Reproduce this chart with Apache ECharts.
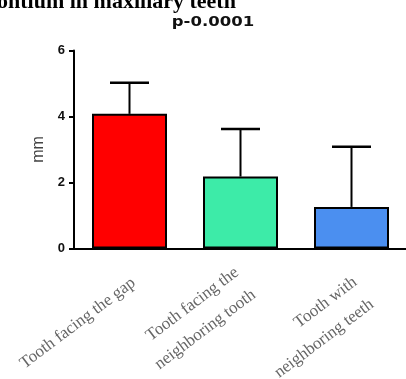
<!DOCTYPE html>
<html><head><meta charset="utf-8">
<script src="https://cdn.jsdelivr.net/npm/echarts@6/dist/echarts.min.js"></script>
<style>html,body{margin:0;padding:0;background:#fff}#c{width:406px;height:379px}</style>
</head><body><div id="c"></div>
<script>
const categories = ['Tooth facing the gap', 'Tooth facing the\nneighboring tooth', 'Tooth with\nneighboring teeth'];
const means = [4.08, 2.18, 1.26];
const sd = [0.94, 1.44, 1.82];
const barColors = ['#ff0000', '#3deba8', '#4b8ff0'];
const yMin = 0, yMax = 6, yStep = 2;
const titleText = 'ontium in maxillary teeth';
const pText = 'p-0.0001';
const yName = 'mm';

const labelShift = [14, 16, 40];

const chart = echarts.init(document.getElementById('c'), null, {renderer: 'canvas'});
const barData = means.map((v, i) => ({value: v, itemStyle: {color: barColors[i]}}));
const errData = means.map((v, i) => [i, v, v + sd[i]]);

const baseTok = {fontFamily: 'Liberation Serif', fontSize: 17, lineHeight: 28, color: '#666'};
const rich = {};
labelShift.forEach((p, i) => { rich['s' + i] = Object.assign({}, baseTok, {padding: [p, 0, 0, 0]}); });

chart.setOption({
  backgroundColor: '#fff',
  animation: false,
  grid: {left: 74, right: -1, top: 50.5, bottom: 130.5, containLabel: false, outerBoundsMode: 'none'},
  graphic: [
    {type: 'text', left: -3, top: -9, style: {text: titleText, font: 'bold 22px "Liberation Serif"', fill: '#000'}},
    {type: 'text', x: 213, y: 22, scaleX: 1.18, style: {text: pText, font: 'bold 14px "DejaVu Sans"', fill: '#111', align: 'center', verticalAlign: 'middle'}}
  ],
  xAxis: {
    type: 'category', data: categories,
    axisLine: {lineStyle: {color: '#000', width: 2}},
    axisTick: {alignWithLabel: true, length: 5, lineStyle: {color: '#000', width: 2}},
    axisLabel: {
      interval: 0, rotate: 37, margin: 27, fontFamily: 'Liberation Serif', fontSize: 17, lineHeight: 28, color: '#666',
      formatter: function (value, index) {
        return value.split('\n').map(l => '{s' + index + '|' + l + '}').join('\n');
      },
      rich: rich
    }
  },
  yAxis: {
    type: 'value', min: yMin, max: yMax, interval: yStep,
    name: yName, nameLocation: 'middle', nameGap: 22, nameRotate: 90,
    nameTextStyle: {fontFamily: 'Liberation Sans', fontSize: 16, color: '#444'},
    axisLine: {show: true, lineStyle: {color: '#000', width: 2}},
    axisTick: {show: true, length: 5, lineStyle: {color: '#000', width: 2}},
    axisLabel: {margin: 9, fontFamily: 'Liberation Sans', fontWeight: 'bold', fontSize: 13, color: '#111'},
    splitLine: {show: false}
  },
  series: [
    {type: 'bar', data: barData, barWidth: 75, itemStyle: {borderColor: '#000', borderWidth: 2}},
    {type: 'custom', data: errData, z: 5,
      renderItem: function (params, api) {
        const x = api.value(0);
        const p0 = api.coord([x, api.value(1)]);
        const p1 = api.coord([x, api.value(2)]);
        const half = 19.5;
        return {type: 'group', children: [
          {type: 'line', shape: {x1: p0[0], y1: p0[1], x2: p1[0], y2: p1[1]}, style: {stroke: '#000', lineWidth: 2}},
          {type: 'line', shape: {x1: p1[0] - half, y1: p1[1], x2: p1[0] + half, y2: p1[1]}, style: {stroke: '#000', lineWidth: 2.5}}
        ]};
      }
    }
  ]
});
</script>
</body></html>
